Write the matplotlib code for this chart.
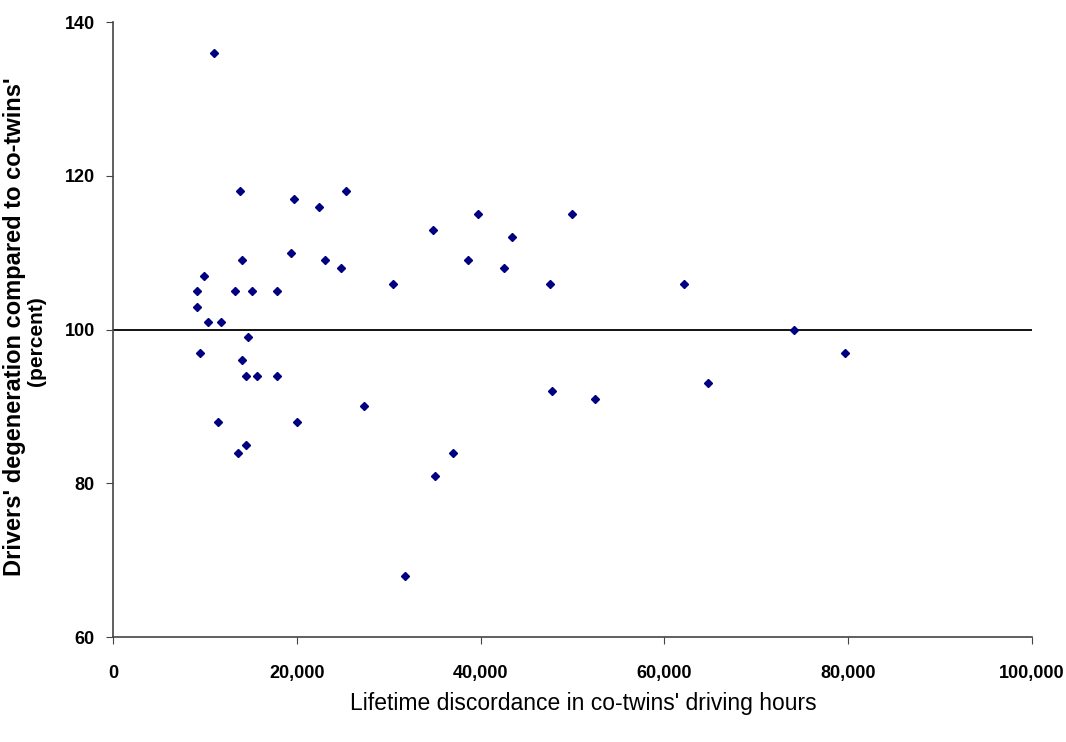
import matplotlib.pyplot as plt
from matplotlib.ticker import FuncFormatter

# lifetime discordance in driving hours vs. degeneration (percent)
hours = [10990, 13820, 19730, 22420, 25350, 14040, 19370, 23030, 24770, 9900,
         9170, 13310, 15130, 17850, 9170, 10370, 11720, 14650, 9470, 14040,
         14510, 15710, 17850, 27350, 11460, 19990, 14510, 13570, 30470, 34860,
         39680, 43450, 38590, 42550, 47590, 49950, 47800, 52450, 35070, 36960,
         31770, 62090, 74140, 79610, 64710]
degeneration = [136, 118, 117, 116, 118, 109, 110, 109, 108, 107,
                105, 105, 105, 105, 103, 101, 101, 99, 97, 96,
                94, 94, 94, 90, 88, 88, 85, 84, 106, 113,
                115, 112, 109, 108, 106, 115, 92, 91, 81, 84,
                68, 106, 100, 97, 93]

x_ticks = [0, 20000, 40000, 60000, 80000, 100000]
y_ticks = [60, 80, 100, 120, 140]

font = ['Liberation Sans Narrow', 'Liberation Sans']

fig = plt.figure(figsize=(10.66, 7.42), dpi=100)
ax = fig.add_axes([0.106, 0.1415, 0.862, 0.8285])

ax.axhline(100, color='black', lw=1.3, zorder=1)
ax.plot(hours, degeneration, linestyle='none', marker='D', ms=4.5,
        color='#000080', zorder=3)

ax.set_xlim(0, 100000)
ax.set_ylim(60, 140)
ax.set_xticks(x_ticks)
ax.set_yticks(y_ticks)
ax.xaxis.set_major_formatter(FuncFormatter(lambda v, p: f'{int(v):,}'))

for s in ['top', 'right']:
    ax.spines[s].set_visible(False)
for s in ['left', 'bottom']:
    ax.spines[s].set_color('#444444')
    ax.spines[s].set_linewidth(1.2)

ax.tick_params(axis='x', direction='out', length=5, pad=15, color='#444444')
ax.tick_params(axis='y', direction='out', length=5, pad=8, color='#444444')
for lab in ax.get_xticklabels() + ax.get_yticklabels():
    lab.set_fontfamily(font)
    lab.set_fontweight('bold')
    lab.set_fontsize(13)

fig.text(0.547, 0.052, "Lifetime discordance in co-twins' driving hours",
         ha='center', va='center', fontsize=16.5, fontfamily=font)
fig.text(0.014, 0.56, "Drivers' degeneration compared to co-twins'",
         rotation=90, ha='center', va='center', fontsize=17,
         fontfamily=font, fontweight='bold')
fig.text(0.034, 0.54, "(percent)", rotation=90, ha='center', va='center',
         fontsize=15, fontfamily=font, fontweight='bold')

fig.savefig('out.png', dpi=100)
